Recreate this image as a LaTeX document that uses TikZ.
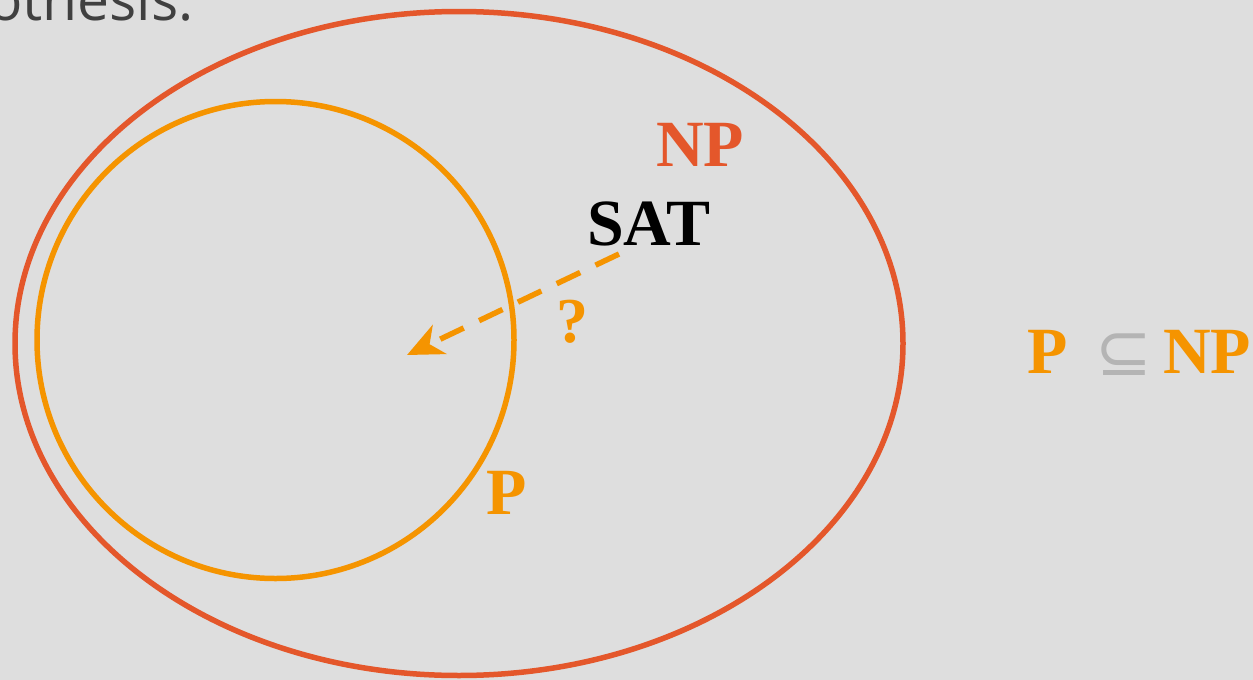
\documentclass[tikz,border=0pt]{standalone}
\usepackage{fontspec}
\setmainfont{Liberation Serif}
\newfontfamily\capfont{Open Sans}
\newfontfamily\symfont{DejaVu Sans}
\usetikzlibrary{arrows.meta}
\definecolor{bggray}{RGB}{222,222,222}
\definecolor{npred}{RGB}{228,87,43}
\definecolor{porange}{RGB}{245,148,0}
\definecolor{txtgray}{RGB}{64,64,64}
\definecolor{subgray}{RGB}{180,180,180}
\tikzset{
  setline/.style={line width=5.5pt},
  biglabel/.style={font=\fontsize{66}{66}\selectfont\bfseries, inner sep=0pt},
}
\begin{document}
\begin{tikzpicture}[x=1pt,y=-1pt]
\fill[bggray] (0,0) rectangle (1253,680);
\useasboundingbox (0,0) rectangle (1253,680);
% caption fragment
\node[anchor=base west, inner sep=0pt, text=txtgray, font=\capfont\fontsize{57}{57}\selectfont] (cap) at (-12,20) {othesis:};
% sets
\draw[setline, npred] (459,343.5) ellipse [x radius=444, y radius=332];
\draw[setline, porange] (275.5,340) circle [radius=238.5];
% labels
\node[biglabel, text=npred, anchor=base] (np) at (700,166) {NP};
\node[biglabel, text=black, anchor=base] (sat) at (649,245) {SAT};
\node[biglabel, text=porange, anchor=base] (p) at (507,514) {P};
\node[inner sep=0pt, text=porange, font=\fontsize{64}{64}\selectfont\bfseries, anchor=base] (q) at (572,342) {?};
% arrow
\coordinate (a1) at (619,254);
\coordinate (a2) at (407,355);
\draw[porange, line width=5.5pt, dash pattern=on 26pt off 17pt, -{Stealth[length=36pt,width=32pt,inset=11pt]}] (a1) -- (a2);
% relation
\node[biglabel, text=porange, anchor=base] (rp) at (1048,373) {P};
\node[inner sep=0pt, text=subgray, font=\symfont\fontsize{68}{68}\selectfont, anchor=base] (sub) at (1124,375) {⊆};
\node[biglabel, text=porange, anchor=base] (rnp) at (1207,373) {NP};
\end{tikzpicture}
\end{document}
